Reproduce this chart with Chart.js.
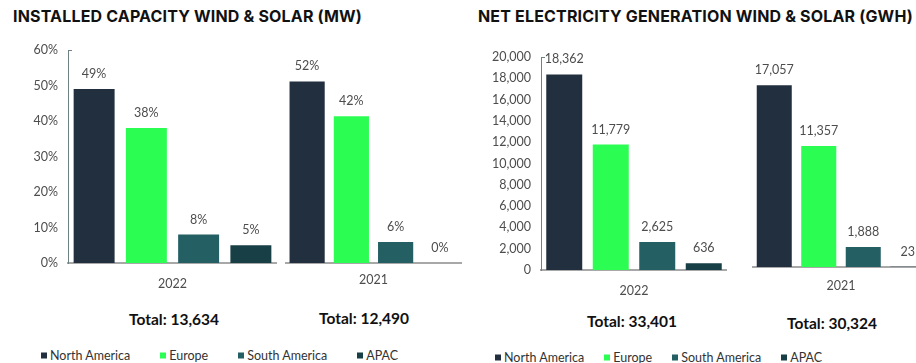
<!DOCTYPE html>
<html>
<head>
<meta charset="utf-8">
<script src="https://cdn.jsdelivr.net/npm/chart.js@4.4.1/dist/chart.umd.min.js"></script>
<style>
  html, body { margin: 0; padding: 0; background: #fff; }
  #page { position: relative; width: 916px; height: 363px; overflow: hidden; font-family: Lato, "Noto Sans", sans-serif; }
  #page canvas { position: absolute; }
  .title { position: absolute; top: 8px; line-height: 16px; font-family: Inter, Lato, sans-serif; font-weight: 700; font-size: 16px; color: #111; white-space: nowrap; letter-spacing: -0.4px; }
  .total { position: absolute; transform: translate(-50%, -50%); font-weight: 700; font-size: 15.5px; color: #111; white-space: nowrap; }
  .legend { position: absolute; display: flex; align-items: center; font-size: 12.5px; color: #333; transform: translateY(-50%); white-space: nowrap; }
  .legend .item { display: flex; align-items: center; }
  .legend i { display: inline-block; width: 6px; height: 6px; margin-right: 3px; }
</style>
</head>
<body>
<div id="page">
  <div class="title" id="titleLeft" style="left:13px">INSTALLED CAPACITY WIND &amp; SOLAR (MW)</div>
  <div class="title" id="titleRight" style="left:478px">NET ELECTRICITY GENERATION WIND &amp; SOLAR (GWH)</div>
</div>
<script>
// Regions and figures
const regions = ['North America', 'Europe', 'South America', 'APAC'];
const years = ['2022', '2021'];
const capacityShare2022 = [49, 38, 8, 5];
const capacityShare2021 = [52, 42, 6, 0];
const generation2022 = [18362, 11779, 2625, 636];
const generation2021 = [17057, 11357, 1888, 23];
const capacityTotals = [13634, 12490];
const generationTotals = [33401, 30324];
const capacityTicks = [0, 10, 20, 30, 40, 50, 60];
const generationTicks = [0, 2000, 4000, 6000, 8000, 10000, 12000, 14000, 16000, 18000, 20000];

// Styling
const regionColors = ['#222f3e', '#2cfd53', '#235f63', '#173f45'];
const textColor = '#4d4d4d';
const fontFamily = 'Lato, "Noto Sans", sans-serif';

Chart.defaults.font.family = fontFamily;
Chart.defaults.font.size = 12.5;
Chart.defaults.color = textColor;

const pct = v => v + '%';
const num = v => v.toLocaleString('en-US');

// Stretch each heading to its column width
[['titleLeft', 349], ['titleRight', 435]].forEach(([id, target]) => {
  const el = document.getElementById(id);
  const chars = el.textContent.length;
  const w = el.getBoundingClientRect().width;
  const ls = -0.4 + (target - w) / chars;
  el.style.letterSpacing = ls.toFixed(2) + 'px';
});

// Value printed above every bar
const valueLabels = {
  id: 'valueLabels',
  afterDatasetsDraw(chart, args, opts) {
    const ctx = chart.ctx;
    ctx.save();
    ctx.font = '12.5px ' + fontFamily;
    ctx.fillStyle = textColor;
    ctx.textAlign = 'center';
    ctx.textBaseline = 'middle';
    chart.data.datasets.forEach((ds, i) => {
      chart.getDatasetMeta(i).data.forEach((bar, j) => {
        ctx.fillText(opts.format(ds.data[j]), bar.x, bar.y - 15);
      });
    });
    ctx.restore();
  }
};

// Small cap at the top of the value axis
const axisCap = {
  id: 'axisCap',
  afterDraw(chart) {
    const y = chart.scales.y;
    if (!y.options.display) return;
    const ctx = chart.ctx;
    const top = Math.round(y.getPixelForValue(y.max)) + 0.5;
    ctx.save();
    ctx.strokeStyle = '#6e8183';
    ctx.lineWidth = 1;
    ctx.beginPath();
    ctx.moveTo(y.right, top);
    ctx.lineTo(y.right + 4, top);
    ctx.stroke();
    ctx.restore();
  }
};

const panels = [
  { year: years[0], values: capacityShare2022, format: pct, max: 60, ticks: capacityTicks, yWidth: 50,
    barPct: 0.784, tickPad: 13.5, left: 18, top: 30, width: 259, height: 273 },
  { year: years[1], values: capacityShare2021, format: pct, max: 61, ticks: null, yWidth: 0,
    barPct: 0.795, tickPad: 9, left: 285, top: 30, width: 177, height: 273 },
  { year: years[0], values: generation2022, format: num, max: 20000, ticks: generationTicks, yWidth: 70,
    barPct: 0.774, tickPad: 13, left: 471, top: 37, width: 256, height: 273 },
  { year: years[1], values: generation2021, format: num, max: 20000, ticks: null, yWidth: 0,
    barPct: 0.787, tickPad: 11, left: 752, top: 34, width: 178, height: 273 }
];

const page = document.getElementById('page');

panels.forEach(p => {
  const canvas = document.createElement('canvas');
  canvas.width = p.width;
  canvas.height = p.height;
  canvas.style.left = p.left + 'px';
  canvas.style.top = p.top + 'px';
  page.appendChild(canvas);

  new Chart(canvas, {
    type: 'bar',
    data: {
      labels: [p.year],
      datasets: regions.map((r, i) => ({
        label: r,
        data: [p.values[i]],
        backgroundColor: regionColors[i],
        categoryPercentage: 1,
        barPercentage: p.barPct
      }))
    },
    options: {
      responsive: false,
      animation: false,
      layout: { padding: { top: 20, left: 0, right: 0, bottom: 0 } },
      plugins: {
        legend: { display: false },
        tooltip: { enabled: false },
        valueLabels: { format: p.format }
      },
      scales: {
        x: {
          grid: { display: false, drawTicks: false, tickLength: 0 },
          border: { display: true, color: '#a8a8a8', width: 2 },
          ticks: { padding: p.tickPad, color: textColor, font: { size: 12.5 } },
          afterFit: s => { s.height = 40; }
        },
        y: {
          display: !!p.ticks,
          min: 0,
          max: p.max,
          grid: { display: false, drawTicks: false, tickLength: 0 },
          border: { display: true, color: '#6e8183', width: 1 },
          ticks: { padding: 10, color: textColor, callback: v => p.format(v) },
          afterBuildTicks: s => { if (p.ticks) s.ticks = p.ticks.map(v => ({ value: v })); },
          afterFit: s => { s.width = p.yWidth; }
        }
      }
    },
    plugins: [valueLabels, axisCap]
  });
});

// Totals under each year group
const totals = [
  { value: capacityTotals[0], x: 174, y: 319 },
  { value: capacityTotals[1], x: 364, y: 318 },
  { value: generationTotals[0], x: 632, y: 321 },
  { value: generationTotals[1], x: 832, y: 323 }
];
totals.forEach(t => {
  const d = document.createElement('div');
  d.className = 'total';
  d.style.left = t.x + 'px';
  d.style.top = t.y + 'px';
  d.textContent = 'Total: ' + num(t.value);
  page.appendChild(d);
});

// Legends
[{ left: 41, top: 355, gap: 30 }, { left: 495, top: 357, gap: 20 }].forEach(l => {
  const box = document.createElement('div');
  box.className = 'legend';
  box.style.left = l.left + 'px';
  box.style.top = l.top + 'px';
  box.style.gap = l.gap + 'px';
  regions.forEach((r, i) => {
    const item = document.createElement('span');
    item.className = 'item';
    const sw = document.createElement('i');
    sw.style.background = regionColors[i];
    item.appendChild(sw);
    item.appendChild(document.createTextNode(r));
    box.appendChild(item);
  });
  page.appendChild(box);
});
</script>
</body>
</html>
